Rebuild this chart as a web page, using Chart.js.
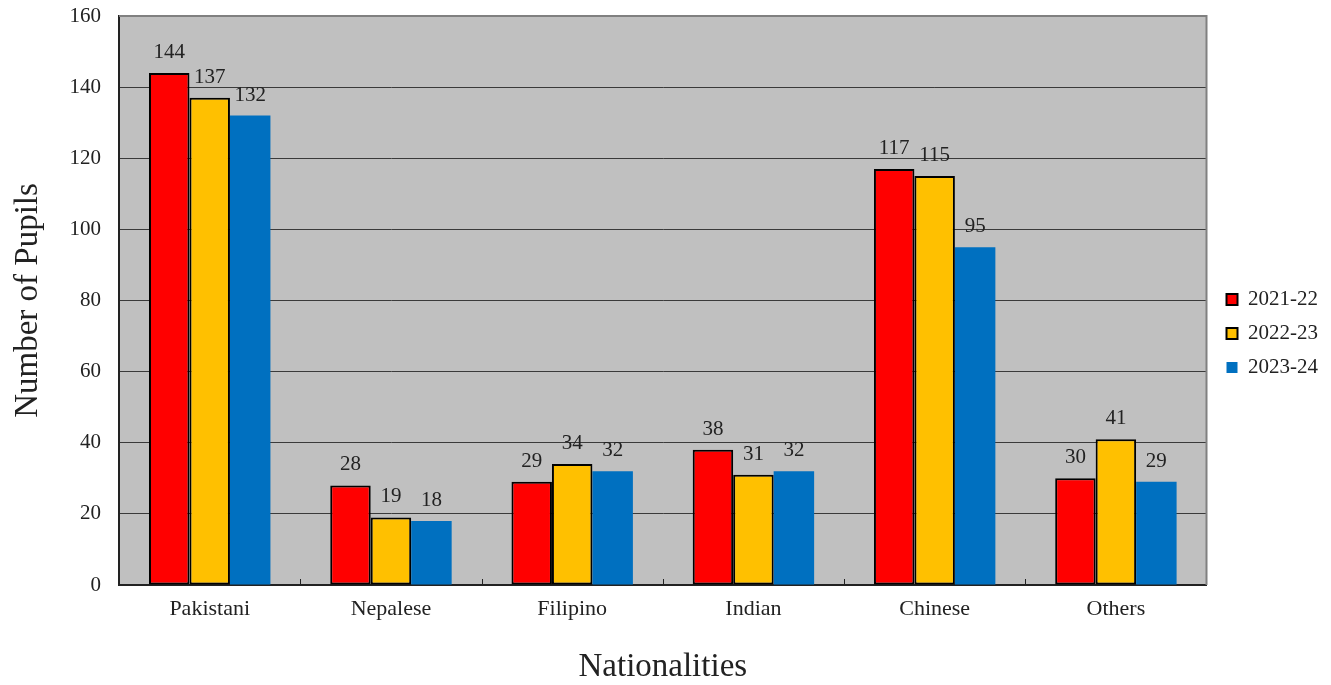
<!DOCTYPE html>
<html>
<head>
<meta charset="utf-8">
<script src="https://cdn.jsdelivr.net/npm/chart.js@4.4.1/dist/chart.umd.min.js"></script>
<style>
html,body{margin:0;padding:0;background:#fff;}
#wrap{width:1331px;height:685px;}
</style>
</head>
<body>
<div id="wrap"><canvas id="c" width="1331" height="685"></canvas></div>
<script>
const categories = ['Pakistani','Nepalese','Filipino','Indian','Chinese','Others'];
const series2021 = [144, 28, 29, 38, 117, 30];
const series2022 = [137, 19, 34, 31, 115, 41];
const series2023 = [132, 18, 32, 32, 95, 29];
const seriesNames = ['2021-22','2022-23','2023-24'];
const yTicks = [0,20,40,60,80,100,120,140,160];

const FONT = '"Liberation Serif", "DejaVu Serif", serif';
const TXT = '#222';

const plotDecor = {
  id: 'plotDecor',
  afterLayout(chart) {
    const lg = chart.legend;
    if (lg) {
      lg.top -= 11; lg.bottom -= 11;
      lg.left += 7; lg.right += 7;
    }
  },
  beforeDraw(chart) {
    const {ctx, chartArea: a} = chart;
    ctx.save();
    ctx.fillStyle = '#c0c0c0';
    ctx.fillRect(a.left, a.top, a.right - a.left, a.bottom - a.top);
    ctx.restore();
  },
  afterDatasetsDraw(chart) {
    const {ctx, chartArea: a, scales} = chart;
    const x = scales.x;
    ctx.save();
    ctx.strokeStyle = '#808080';
    ctx.lineWidth = 2;
    ctx.beginPath();
    ctx.moveTo(a.left, a.top);
    ctx.lineTo(a.right, a.top);
    ctx.lineTo(a.right, a.bottom);
    ctx.stroke();
    ctx.strokeStyle = '#222';
    ctx.lineWidth = 1;
    for (let i = 0; i < categories.length - 1; i++) {
      const px = Math.round((x.getPixelForValue(i) + x.getPixelForValue(i + 1)) / 2) + 0.5;
      ctx.beginPath();
      ctx.moveTo(px, a.bottom);
      ctx.lineTo(px, a.bottom - 6);
      ctx.stroke();
    }
    ctx.fillStyle = TXT;
    ctx.font = '21px ' + FONT;
    ctx.textAlign = 'center';
    ctx.textBaseline = 'alphabetic';
    chart.data.datasets.forEach((ds, di) => {
      const meta = chart.getDatasetMeta(di);
      meta.data.forEach((bar, i) => {
        ctx.fillText(String(ds.data[i]), bar.x, bar.y - 15);
      });
    });
    ctx.restore();
  }
};

new Chart(document.getElementById('c'), {
  type: 'bar',
  data: {
    labels: categories,
    datasets: [
      {label: seriesNames[0], data: series2021, backgroundColor: '#ff0000', borderColor: '#000', borderWidth: 2, borderSkipped: false},
      {label: seriesNames[1], data: series2022, backgroundColor: '#ffc000', borderColor: '#000', borderWidth: 2, borderSkipped: false},
      {label: seriesNames[2], data: series2023, backgroundColor: '#0070c0', borderColor: '#0070c0', borderWidth: 0}
    ]
  },
  options: {
    responsive: false,
    animation: false,
    devicePixelRatio: 1,
    datasets: { bar: { barPercentage: 1, categoryPercentage: 0.67 } },
    layout: { padding: { top: 2, left: 9, right: 10, bottom: -2 } },
    plugins: {
      tooltip: { enabled: false },
      legend: {
        position: 'right',
        labels: {
          boxWidth: 11, boxHeight: 11, padding: 13,
          color: TXT,
          font: { family: FONT, size: 21 }
        }
      }
    },
    scales: {
      x: {
        offset: true,
        grid: { display: false, drawTicks: false },
        border: { display: true, color: '#222', width: 2 },
        ticks: { color: TXT, padding: 11, font: { family: FONT, size: 22 } },
        title: { display: true, text: 'Nationalities', color: TXT, font: { family: FONT, size: 33 }, padding: { top: 14, bottom: 0 } }
      },
      y: {
        min: 0, max: 160,
        afterBuildTicks(scale) { scale.ticks = yTicks.map(v => ({value: v})); },
        afterFit(scale) { scale.paddingTop = 16; scale.paddingBottom = 0; },
        grid: { color: '#3a3a3a', lineWidth: 1, drawTicks: false },
        border: { display: true, color: '#222', width: 2 },
        ticks: { color: TXT, padding: 18, font: { family: FONT, size: 21 } },
        title: { display: true, text: 'Number of Pupils', color: TXT, font: { family: FONT, size: 33 }, padding: { top: 0, bottom: 3 } }
      }
    }
  },
  plugins: [plotDecor]
});
</script>
</body>
</html>
